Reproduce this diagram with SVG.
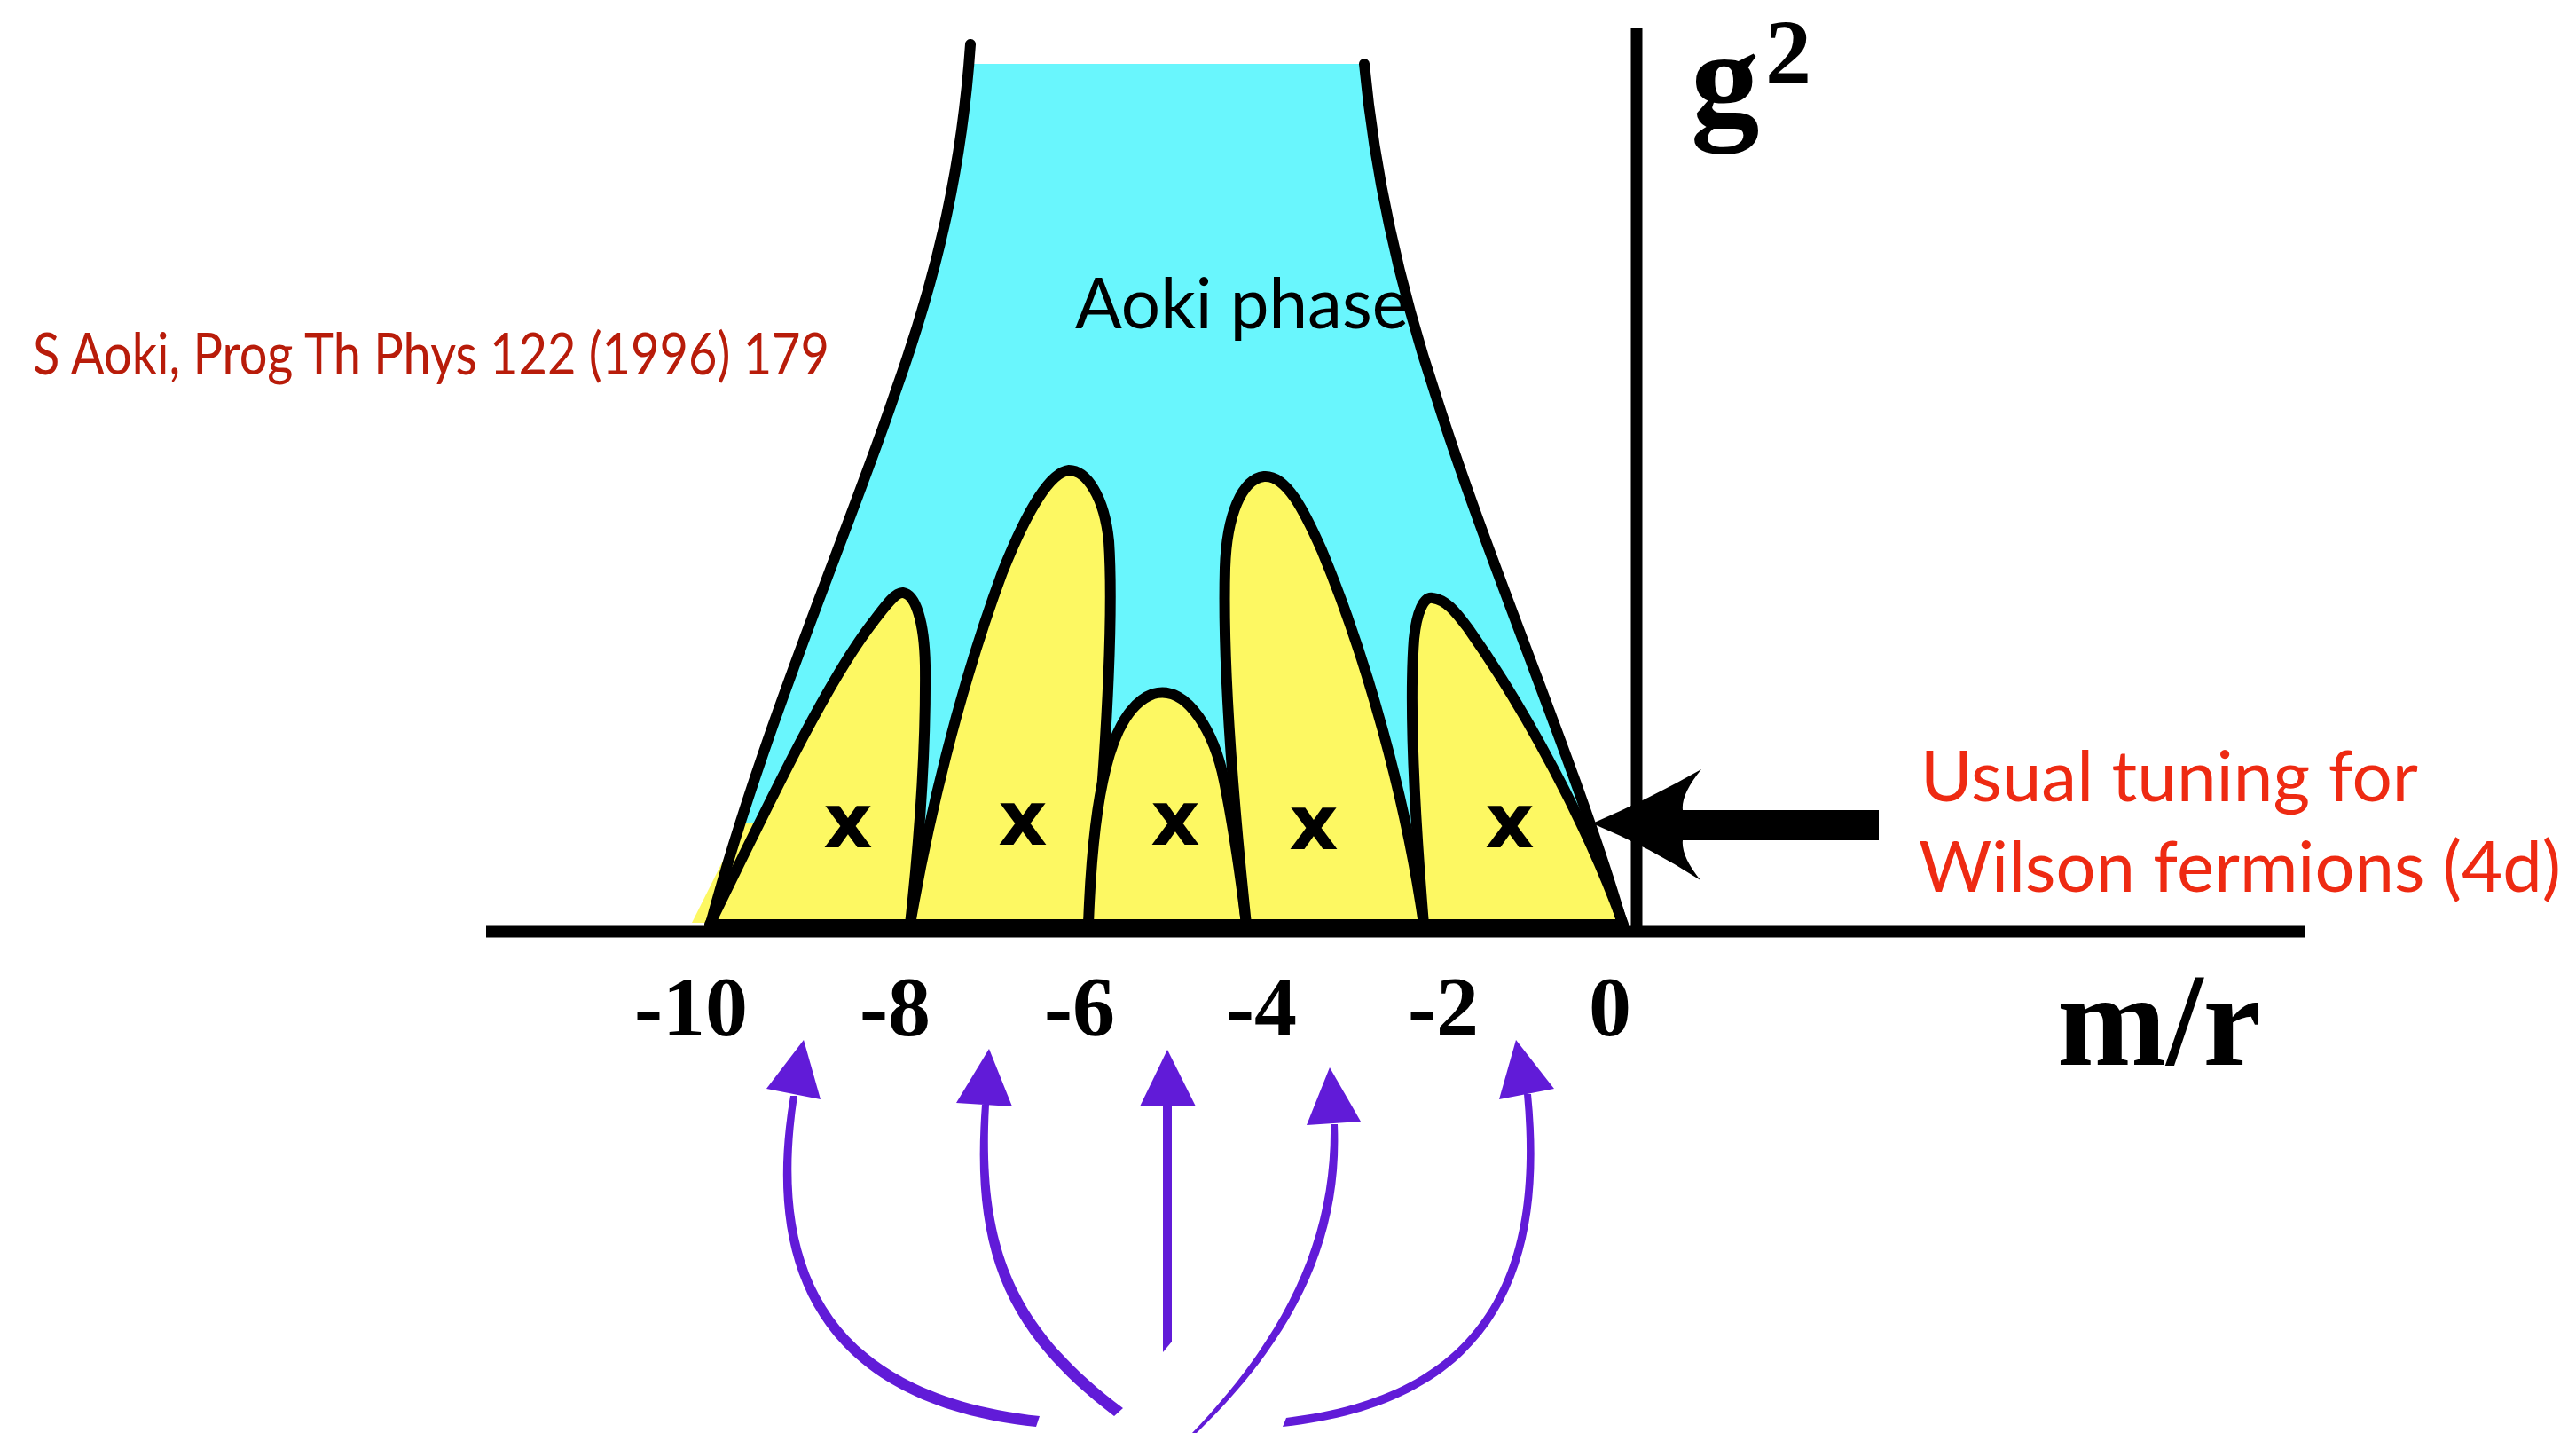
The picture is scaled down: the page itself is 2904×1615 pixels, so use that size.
<svg xmlns="http://www.w3.org/2000/svg" width="2904" height="1615" viewBox="0 0 2904 1615">
<style>
.ln{fill:none;stroke:#000;stroke-width:12;stroke-linejoin:round;stroke-linecap:round}
.lobe{fill:#FDF862;stroke:#000;stroke-width:12;stroke-linejoin:round}
.cy{fill:#69F6FD}
.yl{fill:#FDF862}
.xm{font-family:"DejaVu Sans","Liberation Sans",sans-serif;font-weight:bold;font-size:86px;fill:#000;text-anchor:middle}
.tick{font-family:"Liberation Serif","Times New Roman",serif;font-weight:bold;font-size:96px;fill:#000;text-anchor:middle}
.big{font-family:"Liberation Serif","Times New Roman",serif;font-weight:bold;fill:#000}
.pu{fill:#611BD8}
.hum{font-family:Lato,"Open Sans",sans-serif}
</style>
<rect width="2904" height="1615" fill="#fff"/>
<g id="phase-diagram">
  <path class="cy" d="M1098,72 L1536,72 C1550,200 1580,330 1620,450 C1680,640 1780,870 1830,1040 L800,1040 C860,820 960,590 1010,440 C1060,300 1080,200 1098,72 Z"/>
  <path class="yl" d="M780,1040 L836,928 L852,928 L808,1040 Z"/>
  <path class="lobe" d="M800,1042 C860,920 930,770 985,700 C1000,680 1010,667 1018,668 C1032,670 1042,700 1043,750 C1044,850 1035,960 1026,1042 Z"/>
  <path class="lobe" d="M1026,1042 C1045,930 1080,780 1130,645 C1160,570 1185,532 1205,530 C1225,530 1245,560 1250,610 C1256,700 1245,900 1227,1042 Z"/>
  <path class="lobe" d="M1227,1042 C1232,900 1250,800 1300,782 C1340,770 1370,830 1380,880 C1392,940 1400,1000 1405,1042 Z"/>
  <path class="lobe" d="M1405,1042 C1390,900 1378,750 1381,640 C1383,580 1400,540 1425,537 C1450,535 1470,575 1490,620 C1540,740 1585,900 1605,1042 Z"/>
  <path class="lobe" d="M1605,1042 C1595,920 1588,800 1594,720 C1597,690 1605,672 1615,674 C1630,676 1640,688 1655,708 C1720,800 1790,930 1830,1042 Z"/>
  <path class="ln" d="M1094,50 C1085,180 1060,300 1010,440 C960,590 860,820 800,1045"/>
  <path class="ln" d="M1538,72 C1550,200 1580,330 1620,450 C1680,640 1780,870 1830,1045"/>
  <text class="xm" x="956" y="955">x</text>
  <text class="xm" x="1153" y="952">x</text>
  <text class="xm" x="1325" y="952">x</text>
  <text class="xm" x="1481" y="957">x</text>
  <text class="xm" x="1702" y="955">x</text>
  <text class="hum" x="1212" y="370" font-size="80" fill="#000" textLength="376" lengthAdjust="spacingAndGlyphs">Aoki phase</text>
</g>
<g id="axes">
  <line x1="1845" y1="32" x2="1845" y2="1056" stroke="#000" stroke-width="13"/>
  <line x1="548" y1="1050" x2="2598" y2="1050" stroke="#000" stroke-width="13"/>
  <text class="tick" x="779" y="1167">-10</text>
  <text class="tick" x="1009" y="1167">-8</text>
  <text class="tick" x="1217" y="1167">-6</text>
  <text class="tick" x="1422" y="1167">-4</text>
  <text class="tick" x="1627" y="1167">-2</text>
  <text class="tick" x="1815" y="1167">0</text>
  <text class="big" x="2319" y="1200" font-size="148">m/r</text>
  <text class="big" x="1906" y="140" font-size="155">g</text>
  <text class="big" x="1990" y="94" font-size="104">2</text>
</g>
<g id="citation">
  <text class="hum" x="37" y="422" font-size="66" fill="#B81C0A" textLength="898" lengthAdjust="spacingAndGlyphs">S Aoki, Prog Th Phys 122 (1996) 179</text>
</g>
<g id="tuning-label">
  <text class="hum" x="2165" y="903" font-size="80" fill="#EE2A12" textLength="561" lengthAdjust="spacingAndGlyphs">Usual tuning for</text>
  <text class="hum" x="2163" y="1005" font-size="80" fill="#EE2A12" textLength="724" lengthAdjust="spacingAndGlyphs">Wilson fermions (4d)</text>
</g>
<g id="connectors">
  <path d="M1795,928 Q1860,900 1918,867 Q1895,895 1897,913 L2118,913 L2118,947 L1897,947 Q1895,965 1917,992 Q1860,955 1795,928 Z" fill="#000"/>
  <path class="pu" d="M1168,1608 C915,1581 859,1420 891,1235 L899,1235 C871,1420 925,1569 1172,1596 Z"/>
  <polygon class="pu" points="906,1172 864,1227 925,1239"/>
  <path class="pu" d="M1256,1596 C1134,1503 1094,1412 1107,1245 L1115,1245 C1106,1408 1146,1497 1266,1587 Z"/>
  <polygon class="pu" points="1115,1182 1078,1243 1141,1247"/>
  <polygon class="pu" points="1311,1247 1321,1247 1321,1512 1311,1524"/>
  <polygon class="pu" points="1316,1183 1285,1247 1348,1247"/>
  <path class="pu" d="M1344,1615 C1446,1508 1502,1400 1500,1267 L1508,1267 C1514,1402 1455,1512 1349,1615 Z"/>
  <polygon class="pu" points="1499,1203 1473,1268 1534,1264"/>
  <path class="pu" d="M1446,1608 C1695,1581 1745,1420 1726,1233 L1718,1233 C1735,1420 1686,1570 1450,1598 Z"/>
  <polygon class="pu" points="1709,1172 1690,1239 1752,1227"/>
</g>
</svg>
